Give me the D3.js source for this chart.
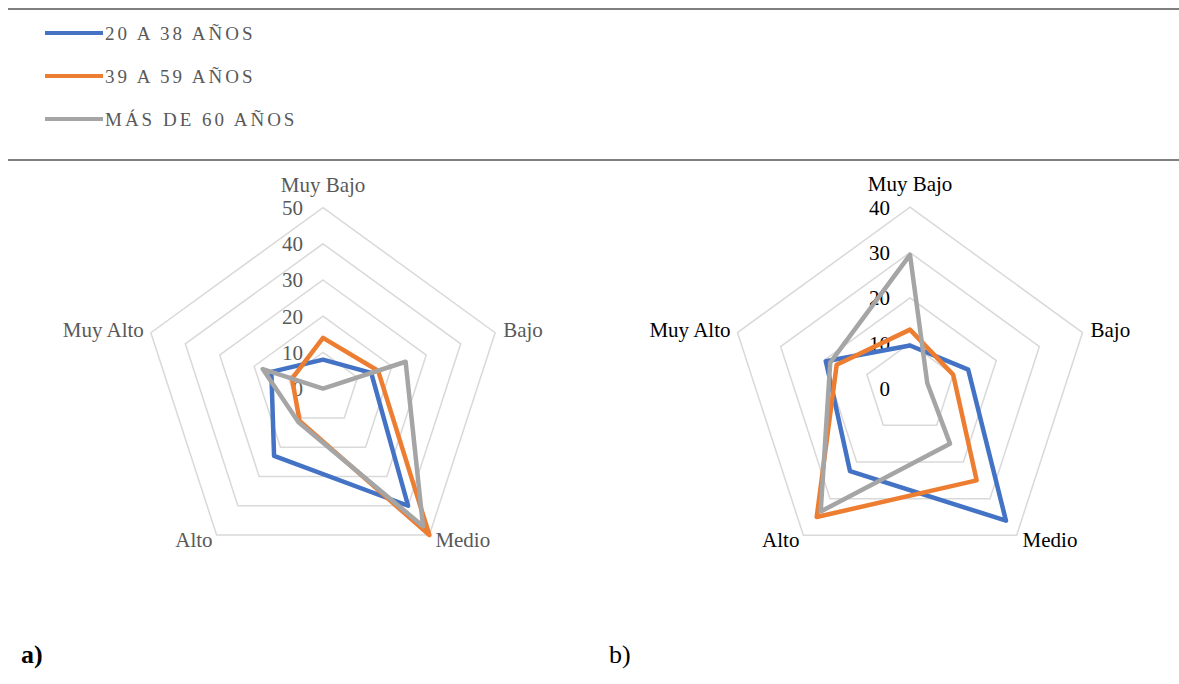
<!DOCTYPE html>
<html lang="es">
<head>
<meta charset="UTF-8" />
<title>Radar</title>
<script src="https://cdn.jsdelivr.net/npm/d3@7"></script>
<style>
  body { margin: 0; background: #fff; }
  svg text { font-family: "Liberation Serif", "Times New Roman", serif; }
</style>
</head>
<body>
<script>
// data
var categories = ["Muy Bajo", "Bajo", "Medio", "Alto", "Muy Alto"];
var seriesNames = ["20 A 38 AÑOS", "39 A 59 AÑOS", "MÁS DE 60 AÑOS"];
var colors = ["#4472C4", "#ED7D31", "#A5A5A5"];

var a_joven = [8, 14, 40, 23, 15];
var a_medio = [14, 16, 50, 11, 9];
var a_mayor = [0, 24, 47, 11.5, 17.5];
var a_ticks = [0, 10, 20, 30, 40, 50];

var b_joven = [9.5, 13.5, 36, 22.5, 19.5];
var b_medio = [13, 10, 25, 35, 17];
var b_mayor = [29.5, 4, 15, 33.5, 18.5];
var b_ticks = [0, 10, 20, 30, 40];

var W = 1179, H = 684;
var svg = d3.select("body").append("svg")
  .attr("width", W).attr("height", H);

// legend frame
svg.append("line").attr("x1", 8).attr("x2", W).attr("y1", 9).attr("y2", 9)
  .attr("stroke", "#7f7f7f").attr("stroke-width", 2);
svg.append("line").attr("x1", 8).attr("x2", W).attr("y1", 160).attr("y2", 160)
  .attr("stroke", "#7f7f7f").attr("stroke-width", 2);

var leg = svg.append("g").selectAll("g").data(seriesNames).enter().append("g")
  .attr("transform", function(d, i) { return "translate(0," + (33 + i * 43) + ")"; });
leg.append("line").attr("x1", 45).attr("x2", 103)
  .attr("stroke", function(d, i) { return colors[i]; }).attr("stroke-width", 4);
leg.append("text").attr("x", 105).attr("y", 6.5)
  .attr("fill", "#595959").style("font-size", "19px").style("letter-spacing", "3px")
  .text(function(d) { return d; });

function radar(cx, cy, R, ticks, series, labelColor) {
  var maxV = d3.max(ticks);
  var r = d3.scaleLinear().domain([0, maxV]).range([0, R]);
  var ang = d3.scalePoint().domain(categories).range([0, 2 * Math.PI * 4 / 5]);
  var g = svg.append("g").attr("transform", "translate(" + cx + "," + cy + ")");

  var ring = d3.lineRadial().curve(d3.curveLinearClosed)
    .angle(function(c) { return ang(c); });

  // grid rings (skip the centre)
  g.selectAll(".ring").data(ticks.filter(function(t) { return t > 0; }))
    .enter().append("path")
    .attr("d", function(t) { return ring.radius(r(t))(categories); })
    .attr("fill", "none").attr("stroke", "#d9d9d9").attr("stroke-width", 1.5);

  // tick labels
  g.selectAll(".tick").data(ticks).enter().append("text")
    .attr("x", -20).attr("y", function(t) { return -r(t); }).attr("dy", "0.35em")
    .attr("text-anchor", "end").attr("fill", labelColor)
    .style("font-size", "21px").text(function(t) { return t; });

  // series
  var line = d3.lineRadial().curve(d3.curveLinearClosed)
    .angle(function(d, i) { return ang(categories[i]); })
    .radius(function(d) { return r(d); });
  g.selectAll(".serie").data(series).enter().append("path")
    .attr("d", function(d) { return line(d); })
    .attr("fill", "none")
    .attr("stroke", function(d, i) { return colors[i]; })
    .attr("stroke-width", 4.5).attr("stroke-linejoin", "round");

  // category labels
  g.selectAll(".cat").data(categories).enter().append("text")
    .attr("fill", labelColor).style("font-size", "21px")
    .each(function(c) {
      var a = ang(c);
      var x = Math.sin(a) * R, y = -Math.cos(a) * R;
      var t = d3.select(this).text(c);
      if (Math.abs(x) < 1) {
        t.attr("x", x).attr("y", y - 16).attr("text-anchor", "middle");
      } else if (y < 0) {
        t.attr("x", x + (x > 0 ? 8 : -7)).attr("y", y + 4)
          .attr("text-anchor", x > 0 ? "start" : "end");
      } else {
        t.attr("x", x + (x > 0 ? 6 : -4)).attr("y", y + 12)
          .attr("text-anchor", x > 0 ? "start" : "end");
      }
    });
}

radar(323, 388.6, 181, a_ticks, [a_joven, a_medio, a_mayor], "#595959");
radar(910, 388.6, 181.4, b_ticks, [b_joven, b_medio, b_mayor], "#000");

svg.append("text").attr("x", 21).attr("y", 663)
  .style("font-size", "26px").style("font-weight", "bold").text("a)");
svg.append("text").attr("x", 609).attr("y", 663)
  .style("font-size", "26px").text("b)");
</script>
</body>
</html>
